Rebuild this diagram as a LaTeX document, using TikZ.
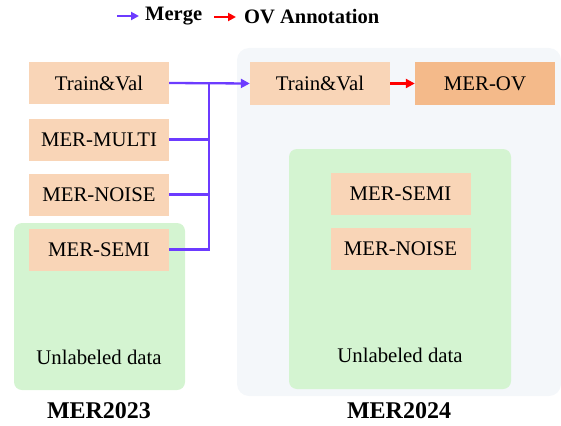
\documentclass[tikz,border=0pt]{standalone}
\usepackage{fontspec}
\setmainfont{Liberation Serif}
\usepackage{tikz}
\usetikzlibrary{arrows.meta}

\definecolor{boxorange}{HTML}{F9D5B7}
\definecolor{ovorange}{HTML}{F4BA8A}
\definecolor{unlgreen}{HTML}{D4F4D1}
\definecolor{bggray}{HTML}{F4F7FA}
\definecolor{mergeviolet}{HTML}{6C3BFF}

\begin{document}
\begin{tikzpicture}[x=1pt,y=-1pt,
		databox/.style={fill=boxorange, minimum width=140pt, minimum height=42pt, inner sep=0pt,
			font=\fontsize{20.8}{24}\selectfont},
		plainlabel/.style={font=\fontsize{20.8}{24}\selectfont},
		yearlabel/.style={font=\fontsize{24}{28}\selectfont\bfseries},
		legendlabel/.style={font=\fontsize{20.5}{24}\selectfont\bfseries, anchor=west, inner sep=0pt},
		mergeline/.style={color=mergeviolet, line width=2.3pt},
		ovline/.style={color=red, line width=2.3pt, -{Triangle[length=9pt,width=9pt]}}]
			\useasboundingbox (0,0) rectangle (561,425);

			\fill [bggray, rounded corners=12pt] (237,48) rectangle (561,396);
			\fill [unlgreen, rounded corners=8pt] (14,223) rectangle (185,390);
			\fill [unlgreen, rounded corners=8pt] (289,149) rectangle (511,389);

			\node [databox] (tvold) at (99,83) {Train\&Val};
			\node [databox] (multi) at (99,139.5) {MER-MULTI};
			\node [databox] (noiseold) at (99,194.5) {MER-NOISE};
			\node [databox] (semiold) at (99,249.5) {MER-SEMI};

			\node [databox] (tvnew) at (320,83.5) {Train\&Val};
			\node [databox, fill=ovorange] (ov) at (485,83.5) {MER-OV};
			\node [databox] (seminew) at (400.5,194) {MER-SEMI};
			\node [databox] (noisenew) at (400.5,249) {MER-NOISE};

			\node [plainlabel] (unlold) at (99,357) {Unlabeled data};
			\node [plainlabel] (unlnew) at (400,355) {Unlabeled data};
			\node [yearlabel] (yold) at (99,411) {MER2023};
			\node [yearlabel] (ynew) at (399,411) {MER2024};

			\coordinate (jn) at (209,83);
			\draw [mergeline, -{Triangle[length=9pt,width=9pt]}] (tvold.east) -- (tvnew.west);
			\draw [mergeline] (semiold.east) -| (jn);
			\draw [mergeline] (multi.east) -- (multi.east -| jn);
			\draw [mergeline] (noiseold.east) -- (noiseold.east -| jn);
			\draw [ovline] (tvnew.east) -- (ov.west);

			\coordinate (ma) at (117,16);
			\coordinate (mb) at (139,16);
			\coordinate (oa) at (214,17);
			\coordinate (ob) at (236,17);
			\draw [mergeline, -{Triangle[length=8pt,width=8pt]}] (ma) -- (mb);
			\draw [ovline, -{Triangle[length=8pt,width=8pt]}] (oa) -- (ob);
			\node [legendlabel] (mergetext) at (145,16) {Merge};
			\node [legendlabel] (ovtext) at (244,17) {OV Annotation};

		\end{tikzpicture}
\end{document}
